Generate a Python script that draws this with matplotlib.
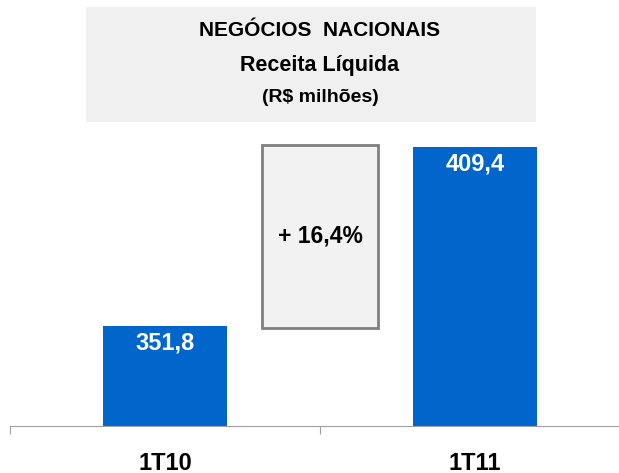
import matplotlib.pyplot as plt
from matplotlib.patches import Rectangle

plt.rcParams['font.family'] = ['Liberation Sans', 'DejaVu Sans']

# dados
categorias = ['1T10', '1T11']
receita = [351.8, 409.4]
rotulos = ['351,8', '409,4']
variacao = '+ 16,4%'

W, H = 619, 473
fig = plt.figure(figsize=(W / 100, H / 100), dpi=100)

# eixo: base em y=426px, categorias de 10px a 630px
ax = fig.add_axes([10 / W, 1 - 426 / H, 620 / W, (426 - 140) / H])
ax.bar(range(len(categorias)), receita, width=0.4, color='#0066cc')
ax.set_xlim(-0.5, 1.5)
ax.set_ylim(319.6, 411.65)

for i, (v, r) in enumerate(zip(receita, rotulos)):
    ax.text(i, v - 1.8, r, ha='center', va='top', color='white',
            fontsize=17, fontweight='bold')

# caixa da variacao
ax.add_patch(Rectangle((0.5 - 0.187, 351.2), 0.374, 410.0 - 351.2,
                       facecolor='#f2f2f2', edgecolor='#808080',
                       linewidth=2, clip_on=False, zorder=3))
ax.text(0.5, 380.6, variacao, ha='center', va='center', fontsize=16.5,
        fontweight='bold', zorder=4)

# eixo x
for s in ['top', 'right', 'left']:
    ax.spines[s].set_visible(False)
ax.spines['bottom'].set_color('#a0a0a0')
ax.set_yticks([])
ax.set_xticks([-0.5, 0.5, 1.5])
ax.set_xticklabels([])
ax.tick_params(axis='x', direction='out', length=6, color='#a0a0a0')
for i, c in enumerate(categorias):
    ax.text(i, 319.6 - 26 / 3.108, c, ha='center', va='top',
            fontsize=17, fontweight='bold')

# caixa do titulo
fig.patches.append(Rectangle((86 / W, 1 - 122 / H), 450 / W, 115 / H,
                             transform=fig.transFigure, facecolor='#f0f0f0',
                             edgecolor='none'))
fig.text(320 / W, 1 - 31 / H, 'NEGÓCIOS  NACIONAIS', ha='center', va='center',
         fontsize=15, fontweight='bold')
fig.text(320 / W, 1 - 65 / H, 'Receita Líquida', ha='center', va='center',
         fontsize=15.5, fontweight='bold')
fig.text(320 / W, 1 - 97 / H, '(R$ milhões)', ha='center', va='center',
         fontsize=14, fontweight='bold')

plt.savefig('out.png', dpi=100)
